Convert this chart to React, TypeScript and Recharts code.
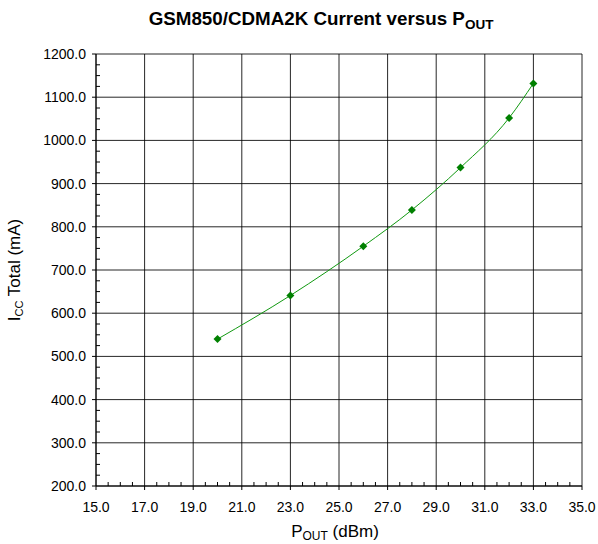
import { LineChart, Line, XAxis, YAxis, CartesianGrid, Label } from "recharts"

// Pout (dBm) vs total Icc (mA)
const pout = [20, 23, 26, 28, 30, 32, 33]
const iccTotal = [540, 641, 755, 839, 937, 1052, 1132]

const xMajorTicks = [15, 17, 19, 21, 23, 25, 27, 29, 31, 33, 35]
const yMajorTicks = [200, 300, 400, 500, 600, 700, 800, 900, 1000, 1100, 1200]
const xMinorPerMajor = 4 // 0.5 dBm steps
const yMinorPerMajor = 4 // 25 mA steps

const FONT = "'Liberation Sans', Arial, sans-serif"

function withMinor(major: number[], parts: number) {
  const out: number[] = []
  major.forEach((v, i) => {
    out.push(v)
    if (i < major.length - 1) {
      const step = (major[i + 1] - v) / parts
      for (let k = 1; k < parts; k++) out.push(v + step * k)
    }
  })
  return out
}

const xTicks = withMinor(xMajorTicks, xMinorPerMajor)
const yTicks = withMinor(yMajorTicks, yMinorPerMajor)

const data = pout.map((p, i) => ({ pout: p, icc: iccTotal[i] }))

function XTick(props: any) {
  const { x, y, payload } = props
  if (!xMajorTicks.includes(payload.value)) {
    return <line x1={x} x2={x} y1={y} y2={y - 4} stroke="#000" />
  }
  return (
    <g>
      <line x1={x} x2={x} y1={y} y2={y + 4} stroke="#000" />
      <text x={x} y={y + 26} textAnchor="middle" fontSize={14} fontFamily={FONT} fill="#000">
        {Number(payload.value).toFixed(1)}
      </text>
    </g>
  )
}

function YTick(props: any) {
  const { x, y, payload } = props
  if (!yMajorTicks.includes(payload.value)) {
    return <line x1={x} x2={x + 4} y1={y} y2={y} stroke="#000" />
  }
  return (
    <g>
      <line x1={x - 4} x2={x} y1={y} y2={y} stroke="#000" />
      <text x={x - 10} y={y + 5} textAnchor="end" fontSize={14} fontFamily={FONT} fill="#000">
        {Number(payload.value).toFixed(1)}
      </text>
    </g>
  )
}

function Diamond(props: any) {
  const { cx, cy } = props
  if (cx == null || cy == null) return null
  const r = 4
  return (
    <polygon
      points={`${cx},${cy - r} ${cx + r},${cy} ${cx},${cy + r} ${cx - r},${cy}`}
      fill="#008000"
    />
  )
}

function XTitle(props: any) {
  const vb = props.viewBox
  return (
    <text x={vb.x + vb.width / 2 - 4} y={vb.y + 51} textAnchor="middle" fontSize={17} fontFamily={FONT} fill="#000">
      P
      <tspan fontSize={12} dy={3}>OUT</tspan>
      <tspan dy={-3}> (dBm)</tspan>
    </text>
  )
}

function YTitle(props: any) {
  const vb = props.viewBox
  const cx = 20
  const cy = vb.y + vb.height / 2
  return (
    <text
      x={cx}
      y={cy}
      transform={`rotate(-90, ${cx}, ${cy})`}
      textAnchor="middle"
      fontSize={17}
      fontFamily={FONT}
      fill="#000"
    >
      I
      <tspan fontSize={11} dy={3}>CC</tspan>
      <tspan dy={-3}> Total (mA)</tspan>
    </text>
  )
}

export default function App() {
  return (
    <div style={{ position: "absolute", left: 0, top: 0, width: 598, height: 544, background: "#fff" }}>
      <div
        style={{
          position: "absolute",
          left: 321,
          top: 9,
          transform: "translateX(-50%)",
          whiteSpace: "nowrap",
          fontFamily: FONT,
          fontWeight: "bold",
          fontSize: 18.8,
          lineHeight: "19px",
          color: "#000",
        }}
      >
        GSM850/CDMA2K Current versus P
        <span style={{ fontSize: 13.5, position: "relative", top: 4 }}>OUT</span>
      </div>
      <LineChart width={598} height={544} data={data} margin={{ top: 54, right: 16, bottom: 0, left: 0 }}>
        <CartesianGrid
          stroke="#000"
          strokeOpacity={0.85}
          horizontalValues={yMajorTicks}
          verticalValues={xMajorTicks}
        />
        <XAxis
          dataKey="pout"
          type="number"
          domain={[15, 35]}
          ticks={xTicks}
          interval={0}
          height={58}
          tickSize={0}
          tickMargin={0}
          tickLine={false}
          tick={<XTick />}
          axisLine={{ stroke: "#000" }}
        >
          <Label content={<XTitle />} />
        </XAxis>
        <YAxis
          dataKey="icc"
          type="number"
          domain={[200, 1200]}
          ticks={yTicks}
          interval={0}
          width={96}
          tickSize={0}
          tickMargin={0}
          tickLine={false}
          tick={<YTick />}
          axisLine={{ stroke: "#000" }}
        >
          <Label content={<YTitle />} />
        </YAxis>
        <Line
          type="monotone"
          dataKey="icc"
          stroke="#119911"
          strokeWidth={1}
          dot={<Diamond />}
          activeDot={false}
          isAnimationActive={false}
        />
      </LineChart>
    </div>
  )
}
